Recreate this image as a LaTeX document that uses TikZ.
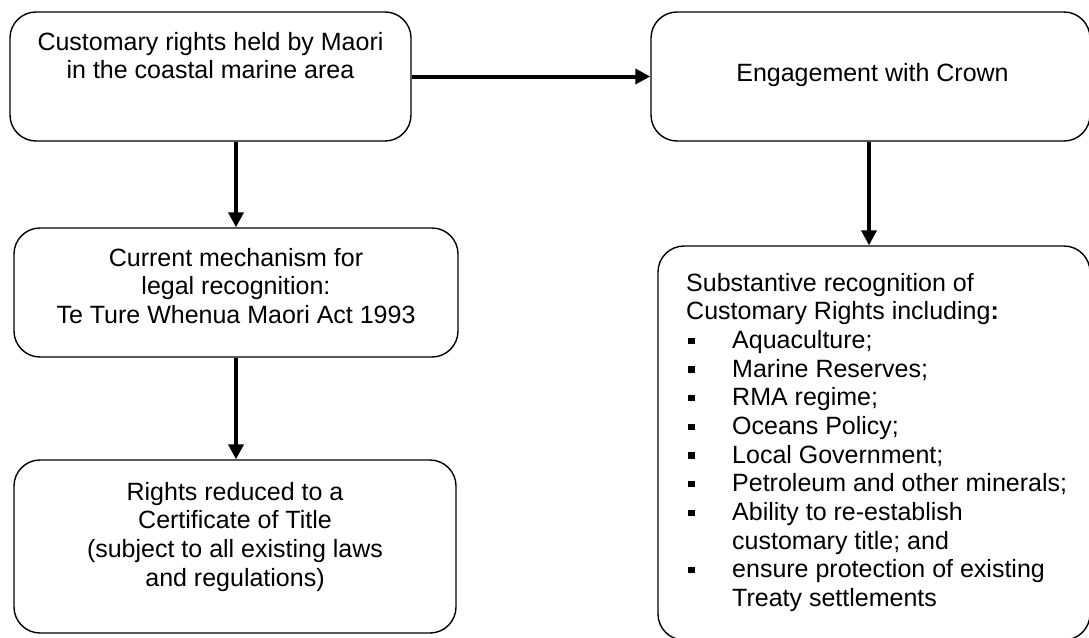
\documentclass[tikz,border=0pt]{standalone}
\usepackage{fontspec}
\setmainfont{Liberation Sans}
\usetikzlibrary{arrows.meta, positioning, calc}

% puce carree des listes
\newcommand{\itm}{\hspace*{2pt}\rule[4.5pt]{6.5pt}{6.5pt}\hspace*{37.5pt}}
\newcommand{\itmsuite}{\hspace*{46pt}}

\begin{document}
\begin{tikzpicture}[
        x=1pt,
        y=-1pt,
        boite/.style={draw, line width=1.4pt, rounded corners=26pt, inner sep=0pt},
        texte/.style={inner sep=0pt, align=center, font=\fontsize{25}{28.65}\selectfont},
        fleche/.style={line width=4pt, -{Triangle[length=15pt, width=15pt]}}
    ]
        % --- Cadre de l'image ---
        \useasboundingbox (0, 0) rectangle (1089, 637);
        \clip (0, 0) rectangle (1089, 637);

        % --- Boites ---
        \node[boite, minimum width=401pt, minimum height=129pt] (rights) at (210.5, 76.5) {};
        \node[boite, minimum width=439pt, minimum height=129pt] (crown)  at (870.5, 76.5) {};
        \node[boite, minimum width=444pt, minimum height=129pt] (mech)   at (236, 292.5) {};
        \node[boite, minimum width=442pt, minimum height=173pt] (title)  at (235, 546.5) {};
        \node[boite, minimum width=432pt, minimum height=394pt] (recog)  at (874, 443) {};

        % --- Textes des boites ---
        \node[texte, anchor=north] (rightstxt) at (210.5, 32)
            {Customary rights held by Maori\\in the coastal marine area};
        \node[texte, anchor=north] (crowntxt) at (872.5, 63)
            {Engagement with Crown};
        \node[texte, anchor=north] (mechtxt) at (236, 248)
            {Current mechanism for\\legal recognition:\\Te Ture Whenua Maori Act 1993};
        \node[texte, anchor=north] (titletxt) at (235, 482)
            {Rights reduced to a\\Certificate of Title\\(subject to all existing laws\\and regulations)};
        \node[texte, align=left, anchor=north west] (recogtxt) at (686, 273)
            {Substantive recognition of\\
             Customary Rights including\textbf{:}\\
             \itm Aquaculture;\\
             \itm Marine Reserves;\\
             \itm RMA regime;\\
             \itm Oceans Policy;\\
             \itm Local Government;\\
             \itm Petroleum and other minerals;\\
             \itm Ability to re-establish\\
             \itmsuite customary title; and\\
             \itm ensure protection of existing\\
             \itmsuite Treaty settlements};

        % --- Fleches ---
        \draw[fleche] (rights.east) -- (crown.west);
        \draw[fleche] (rights.south -| mech.north) -- (mech.north);
        \draw[fleche] (mech.south) -- (mech.south |- title.north);
        \draw[fleche] ($(crown.south) + (-1.5, 0)$) -- ($(crown.south |- recog.north) + (-1.5, 0)$);

    \end{tikzpicture}
\end{document}
